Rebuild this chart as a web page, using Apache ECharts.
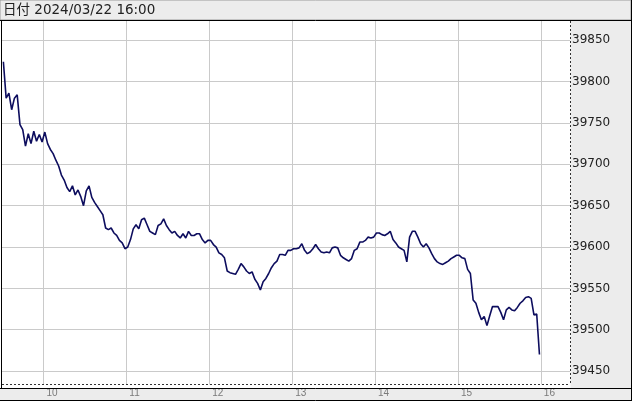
<!DOCTYPE html>
<html><head><meta charset="utf-8">
<script src="https://cdn.jsdelivr.net/npm/echarts@6/dist/echarts.min.js"></script>
<style>html,body{margin:0;padding:0;background:#fff}#c{width:635px;height:403px}</style>
</head><body><div id="c"></div>
<script>
// Header text
const headerText = '日付 2024/03/22 16:00';
// Sampling: first point 9:31, one point every 2 minutes (minutes of the day)
const startMinute = 571;
const stepMinutes = 2;
// Price values
const prices = [
39824,39780,39786,39766,39780,39784,39748,39742,39722,39737,
39725,39740,39728,39736,39727,39739,39725,39718,39713,39705,
39698,39687,39681,39672,39667,39674,39663,39669,39661,39650,
39668,39674,39660,39654,39649,39644,39639,39623,39621,39623,
39617,39614,39608,39605,39598,39600,39609,39622,39627,39622,
39633,39635,39627,39619,39617,39615,39626,39628,39634,39626,
39621,39617,39619,39614,39611,39616,39611,39619,39614,39614,
39616,39616,39609,39605,39608,39608,39603,39600,39593,39591,
39587,39571,39569,39568,39567,39573,39580,39576,39571,39568,
39570,39561,39556,39548,39558,39562,39568,39575,39580,39583,
39591,39591,39590,39596,39596,39598,39598,39599,39604,39596,
39592,39594,39598,39603,39598,39594,39593,39594,39593,39599,
39600,39599,39590,39587,39585,39583,39586,39596,39598,39606,
39606,39608,39612,39611,39612,39617,39617,39615,39614,39616,
39619,39609,39605,39600,39598,39596,39582,39612,39619,39619,
39612,39604,39600,39604,39599,39592,39586,39582,39580,39579,
39581,39583,39586,39588,39590,39590,39587,39586,39573,39568,
39536,39532,39521,39512,39516,39505,39517,39528,39528,39528,
39521,39512,39524,39527,39524,39523,39527,39532,39535,39539,
39540,39538,39518,39519,39470
];
// Axis ticks
const hourTicks = [600, 660, 720, 780, 840, 900, 960]; // 10..16 o'clock
const priceTicks = [39450, 39500, 39550, 39600, 39650, 39700, 39750, 39800, 39850];
const xRange = [570, 981.1];
const yRange = [39433.8, 39874.5];

const seriesData = prices.map((v, i) => [startMinute + i * stepMinutes, v]);

const chart = echarts.init(document.getElementById('c'), null, {renderer: 'canvas'});
const BAND = '#ececec';
chart.setOption({
  animation: false,
  backgroundColor: '#ffffff',
  grid: {left: 2, right: 65, top: 20, bottom: 18.5, containLabel: false},
  xAxis: {
    type: 'value', min: xRange[0], max: xRange[1],
    axisLine: {show: false},
    axisTick: {show: false, customValues: hourTicks},
    splitLine: {show: true, lineStyle: {color: '#cacaca', width: 1}},
    axisLabel: {
      customValues: hourTicks,
      formatter: v => String(Math.round(v / 60)),
      color: '#7a7a7a', fontSize: 10, fontFamily: 'Liberation Sans',
      align: 'left', padding: [0, 0, 0, 3], margin: 4
    }
  },
  yAxis: {
    type: 'value', position: 'right', min: yRange[0], max: yRange[1], scale: true,
    axisLine: {show: false},
    axisTick: {show: false, customValues: priceTicks},
    splitLine: {show: true, lineStyle: {color: '#cacaca', width: 1}},
    axisLabel: {
      customValues: priceTicks,
      formatter: v => String(v),
      color: '#222', fontSize: 12, fontFamily: 'DejaVu Sans',
      align: 'left', margin: 2
    }
  },
  graphic: [
    {type: 'rect', z: -5, shape: {x: 0, y: 0, width: 631, height: 20}, style: {fill: BAND, stroke: '#9a9a9a', lineWidth: 1}},
    {type: 'rect', z: -5, shape: {x: 570.5, y: 20, width: 61, height: 368}, style: {fill: BAND}},
    {type: 'rect', z: -5, shape: {x: 0, y: 388, width: 631, height: 13}, style: {fill: BAND}},
    {type: 'text', z: 50, x: 3, y: 10.5, style: {text: headerText, fill: '#222', font: '13.5px "DejaVu Sans", "Noto Sans CJK JP"', verticalAlign: 'middle'}},
    {type: 'line', z: 50, shape: {x1: 0, y1: 20.5, x2: 631, y2: 20.5}, style: {stroke: '#000', lineWidth: 1}},
    {type: 'line', z: 50, shape: {x1: 1.5, y1: 20, x2: 1.5, y2: 388}, style: {stroke: '#000', lineWidth: 1}},
    {type: 'line', z: 50, shape: {x1: 570.5, y1: 21, x2: 570.5, y2: 385}, style: {stroke: '#333', lineWidth: 1, lineDash: [2, 2]}},
    {type: 'line', z: 50, shape: {x1: 2, y1: 384.5, x2: 570, y2: 384.5}, style: {stroke: '#333', lineWidth: 1, lineDash: [2, 2]}},
    {type: 'line', z: 50, shape: {x1: 0, y1: 388.5, x2: 631, y2: 388.5}, style: {stroke: '#000', lineWidth: 1}},
    {type: 'line', z: 50, shape: {x1: 0, y1: 400.5, x2: 631, y2: 400.5}, style: {stroke: '#000', lineWidth: 1}},
    {type: 'line', z: 50, shape: {x1: 631.5, y1: 0, x2: 631.5, y2: 401}, style: {stroke: '#000', lineWidth: 1}}
  ],
  series: [{
    type: 'line', data: seriesData, showSymbol: false, clip: true,
    lineStyle: {color: '#0d0d5e', width: 1.6}
  }]
});
</script></body></html>
